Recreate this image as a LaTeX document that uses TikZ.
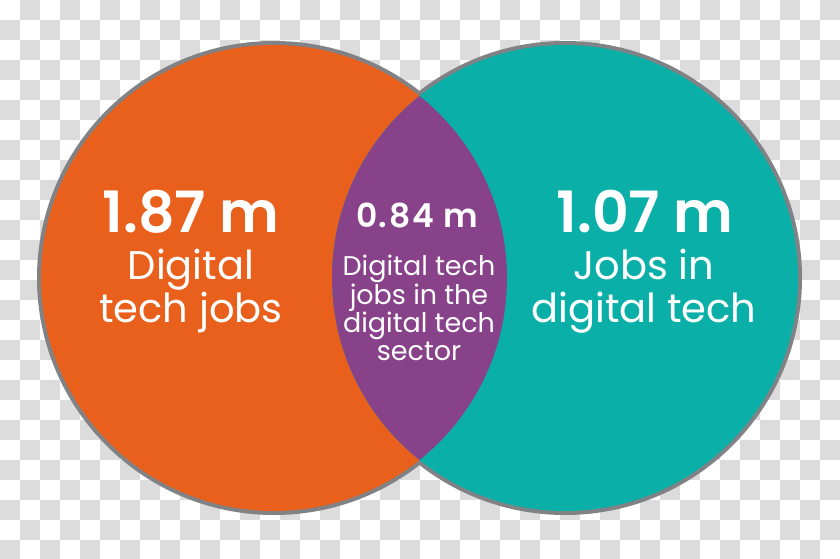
\documentclass[tikz,border=0pt]{standalone}
\usepackage{fontspec}
\setmainfont{Poppins}[BoldFont={Poppins SemiBold}]
\newfontfamily\spacednum{Poppins SemiBold}[LetterSpace=5]
\definecolor{checkgrey}{HTML}{DCDCDC}
\definecolor{ringgrey}{HTML}{808285}
\definecolor{techorange}{HTML}{E8601C}
\definecolor{sectorteal}{HTML}{0AB0A8}
\definecolor{overlapviolet}{HTML}{87428A}
\tikzset{
  bignum/.style={text=white, anchor=base, inner sep=0pt,
    font=\bfseries\fontsize{57}{57}\selectfont},
  bigtext/.style={text=white, anchor=base, inner sep=0pt, align=center,
    font=\fontsize{40}{43}\selectfont},
  smallnum/.style={text=white, anchor=base, inner sep=0pt,
    font=\spacednum\fontsize{33}{33}\selectfont},
  smalltext/.style={text=white, anchor=base, inner sep=0pt, align=center,
    font=\fontsize{27}{27.7}\selectfont},
}
\begin{document}
\begin{tikzpicture}[x=1pt,y=-1pt]
\useasboundingbox (0,0) rectangle (840,559);
\fill[white] (0,0) rectangle (840,559);
%%% the checkered backdrop
\foreach \i in {0,2,...,40}
  \foreach \j in {0,2,...,26}{
    \fill[checkgrey] (20*\i+20,20*\j) rectangle +(20,20);
    \fill[checkgrey] (20*\i,20*\j+20) rectangle +(20,20);
  }
%%% the two sets and their overlap
\coordinate (lc) at (274,278);
\coordinate (rc) at (565,278);
\fill[ringgrey] (lc) circle (237);
\fill[ringgrey] (rc) circle (237);
\fill[techorange] (lc) circle (233);
\fill[sectorteal] (rc) circle (233);
\begin{scope}
\clip (lc) circle (233);
\fill[overlapviolet] (rc) circle (233);
\end{scope}
%%% the labels
\node[bignum] (leftnum) at (191,232) {1.87 m};
\node[bigtext] (lefttext) at (191,322) {Digital\\tech jobs};
\node[smallnum] (midnum) at (417,227) {0.84 m};
\node[smalltext] (midtext) at (419,360) {Digital tech\\jobs in the\\digital tech\\sector};
\node[bignum] (rightnum) at (645,232) {1.07 m};
\node[bigtext] (righttext) at (644,322) {Jobs in\\digital tech};
\end{tikzpicture}
\end{document}
